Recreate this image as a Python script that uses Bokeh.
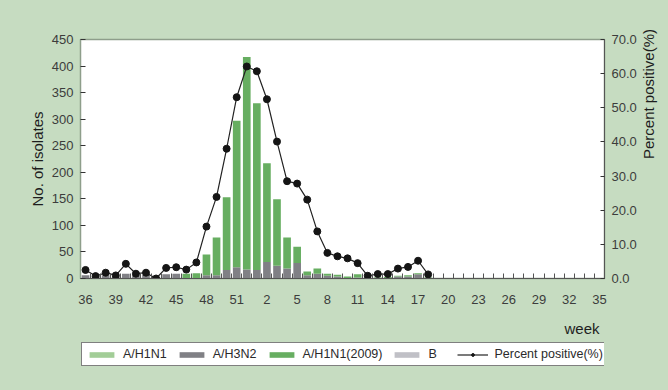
import math
from bokeh.plotting import figure
from bokeh.layouts import column
from bokeh.models import (ColumnDataSource, Range1d, LinearAxis, FixedTicker,
                          Legend, LegendItem, Label, NumeralTickFormatter)
from bokeh.embed import file_html
from bokeh.resources import INLINE

# ---- data ----
weeks = [36, 37, 38, 39, 40, 41, 42, 43, 44, 45, 46, 47, 48, 49, 50, 51, 52,
         1, 2, 3, 4, 5, 6, 7, 8, 9, 10, 11, 12, 13, 14, 15, 16, 17, 18, 19, 20,
         21, 22, 23, 24, 25, 26, 27, 28, 29, 30, 31, 32, 33, 34, 35]
tick_weeks = [36, 39, 42, 45, 48, 51, 2, 5, 8, 11, 14, 17, 20, 23, 26, 29, 32, 35]

data_weeks = [36, 37, 38, 39, 40, 41, 42, 43, 44, 45, 46, 47, 48, 49, 50, 51, 52,
              1, 2, 3, 4, 5, 6, 7, 8, 9, 10, 11, 12, 13, 14, 15, 16, 17, 18]
a_h1n1 = [0, 0, 0, 0, 0, 0, 0, 0, 0, 0, 0, 0, 0, 0, 0, 0, 0,
          0, 0, 0, 0, 0, 0, 0, 0, 0, 0, 0, 0, 0, 0, 0, 0, 0, 0]
a_h3n2 = [6, 4, 6, 4, 9, 6, 7, 3, 8, 9, 1, 1, 6, 6, 16, 21, 17,
          16, 31, 24, 19, 29, 6, 9, 5, 4, 1, 2, 0, 1, 1, 4, 4, 8, 0]
a_h1n1_2009 = [0, 0, 0, 0, 0, 0, 0, 0, 0, 0, 8, 9, 39, 71, 137, 276, 400,
               314, 186, 125, 58, 31, 7, 10, 4, 3, 3, 6, 1, 1, 2, 1, 2, 2, 2]
b = [0, 0, 0, 0, 0, 0, 0, 0, 0, 0, 0, 0, 0, 0, 0, 0, 0,
     0, 0, 0, 0, 0, 0, 0, 0, 0, 0, 0, 0, 0, 0, 0, 0, 0, 0]
pct_positive = [2.5, 0.7, 1.7, 0.9, 4.3, 1.4, 1.7, 0.0, 3.1, 3.3, 2.6, 4.7, 15.2,
                23.9, 38.0, 53.1, 62.1, 60.7, 52.5, 40.1, 28.5, 27.8, 23.1, 13.8,
                7.5, 6.5, 5.9, 4.5, 0.8, 1.3, 1.3, 2.9, 3.4, 5.2, 1.2]
series_names = ["A/H1N1", "A/H3N2", "A/H1N1(2009)", "B", "Percent positive(%)"]

# ---- styling ----
BG = "#c6dcc1"
FONT = "Liberation Sans"
C_H1N1 = "#a2cd97"
C_H3N2 = "#808085"
C_H1N1_2009 = "#67ae61"
C_B = "#c0c0c6"
LINE_C = "#222222"
DOT_C = "#151515"

x = [weeks.index(w) for w in data_weeks]
src = ColumnDataSource(dict(x=x, h3n2=a_h3n2, b=b, h1n1=a_h1n1,
                            h1n1_2009=a_h1n1_2009, pct=pct_positive))

W = 668
H_MAIN = 315
H_LEG = 75

p = figure(width=W, height=H_MAIN, output_backend="svg", toolbar_location=None,
           x_range=Range1d(-0.5, len(weeks) - 0.5), y_range=Range1d(0, 450),
           min_border_left=80, min_border_right=63, min_border_top=39,
           min_border_bottom=37)
p.extra_y_ranges = {"pct": Range1d(0, 70)}
p.background_fill_color = "white"
p.border_fill_color = BG
p.outline_line_color = "#8e9e8b"
p.outline_line_width = 1.5
p.xgrid.visible = False
p.ygrid.visible = False

# left axis
ya = p.yaxis[0]
ya.ticker = FixedTicker(ticks=list(range(0, 451, 50)))
ya.major_tick_in = 5
ya.major_tick_out = 0
ya.minor_tick_line_color = None
ya.major_tick_line_color = "#333333"
ya.axis_line_color = "#8e9e8b"
ya.major_label_text_font = FONT
ya.major_label_text_font_size = "13px"
ya.major_label_text_color = "#3c3c3c"
ya.major_label_standoff = 7
ya.axis_label = "No. of isolates"
ya.axis_label_text_font = FONT
ya.axis_label_text_font_size = "15px"
ya.axis_label_text_font_style = "normal"
ya.axis_label_text_color = "#1e1e1e"
ya.axis_label_standoff = 3

# right axis
ra = LinearAxis(y_range_name="pct", ticker=FixedTicker(ticks=list(range(0, 71, 10))),
                formatter=NumeralTickFormatter(format="0.0"))
ra.major_tick_in = 4
ra.major_tick_out = 0
ra.minor_tick_line_color = None
ra.major_tick_line_color = "#333333"
ra.axis_line_color = "#555555"
ra.major_label_text_font = FONT
ra.major_label_text_font_size = "13px"
ra.major_label_text_color = "#3c3c3c"
ra.major_label_standoff = 7
ra.axis_label = "Percent positive(%)"
ra.axis_label_orientation = math.pi / 2
ra.axis_label_text_font = FONT
ra.axis_label_text_font_size = "15px"
ra.axis_label_text_font_style = "normal"
ra.axis_label_text_color = "#1e1e1e"
ra.axis_label_standoff = 9
p.add_layout(ra, "right")

# x axis
xa = p.xaxis[0]
xa.ticker = FixedTicker(ticks=[weeks.index(w) for w in tick_weeks],
                        minor_ticks=[i - 0.5 for i in range(len(weeks) + 1)])
xa.major_label_overrides = {weeks.index(w): str(w) for w in tick_weeks}
xa.major_tick_line_color = None
xa.major_tick_in = 0
xa.major_tick_out = 0
xa.minor_tick_in = 5
xa.minor_tick_out = 0
xa.minor_tick_line_color = "#555555"
xa.axis_line_color = "#555555"
xa.major_label_text_font = FONT
xa.major_label_text_font_size = "13px"
xa.major_label_text_color = "#3c3c3c"
xa.major_label_standoff = 16

# bars
p.vbar_stack(["h3n2", "b", "h1n1", "h1n1_2009"], x="x", width=0.76,
             color=[C_H3N2, C_B, C_H1N1, C_H1N1_2009], line_color=None,
             source=src)

# percent line
p.line("x", "pct", source=src, y_range_name="pct", line_color=LINE_C,
       line_width=1.2)
p.scatter("x", "pct", source=src, y_range_name="pct", size=7,
          fill_color=DOT_C, line_color=DOT_C)

# ---- bottom strip: "week" caption and legend ----
q = figure(width=W, height=H_LEG, output_backend="svg", toolbar_location=None,
           x_range=Range1d(-0.5, len(weeks) - 0.5), y_range=Range1d(H_LEG, 0),
           x_axis_type=None, y_axis_type=None, min_border=0)
q.background_fill_color = None
q.border_fill_color = None
q.outline_line_color = None
q.grid.visible = False

q.add_layout(Label(x=519, y=13, x_units="screen", text="week", text_align="right",
                   text_baseline="middle", text_font=FONT, text_font_size="15px",
                   text_color="#1e1e1e"))

# legend proxies (hidden renderers carrying the series styles)
lsrc = ColumnDataSource(dict(x=x, h1n1=a_h1n1, h3n2=a_h3n2,
                             h1n1_2009=a_h1n1_2009, b=b, pct=pct_positive))
g_h1n1 = q.vbar(x="x", top="h1n1", source=lsrc, width=0.76, color=C_H1N1,
                line_color=None, visible=False)
g_h3n2 = q.vbar(x="x", top="h3n2", source=lsrc, width=0.76, color=C_H3N2,
                line_color=None, visible=False)
g_2009 = q.vbar(x="x", top="h1n1_2009", source=lsrc, width=0.76,
                color=C_H1N1_2009, line_color=None, visible=False)
g_b = q.vbar(x="x", top="b", source=lsrc, width=0.76, color=C_B,
             line_color=None, visible=False)
g_line = q.line(x="x", y="pct", source=lsrc, line_color=LINE_C, line_width=1.2,
                visible=False)
g_dot = q.scatter(x="x", y="pct", source=lsrc, size=7, fill_color=DOT_C,
                  line_color=DOT_C, visible=False)

legend = Legend(items=[
    LegendItem(label=series_names[0], renderers=[g_h1n1]),
    LegendItem(label=series_names[1], renderers=[g_h3n2]),
    LegendItem(label=series_names[2], renderers=[g_2009]),
    LegendItem(label=series_names[3], renderers=[g_b]),
    LegendItem(label=series_names[4], renderers=[g_line, g_dot]),
], orientation="horizontal", location=(1, 24), glyph_width=31, glyph_height=7,
    label_height=14, label_standoff=6, spacing=9, padding=4, margin=0,
    border_line_color="black", border_line_width=1, background_fill_color="white",
    background_fill_alpha=1, label_text_font=FONT, label_text_font_size="12.5px",
    label_text_color="#2a2a2a", click_policy="none")
q.add_layout(legend, "center")

layout = column(p, q, spacing=0)
html = file_html(layout, INLINE, title="Isolates")
html = html.replace("</head>",
                    "<style>html, body { background-color: %s !important; }</style>\n</head>" % BG, 1)
open("out.html", "w").write(html)
